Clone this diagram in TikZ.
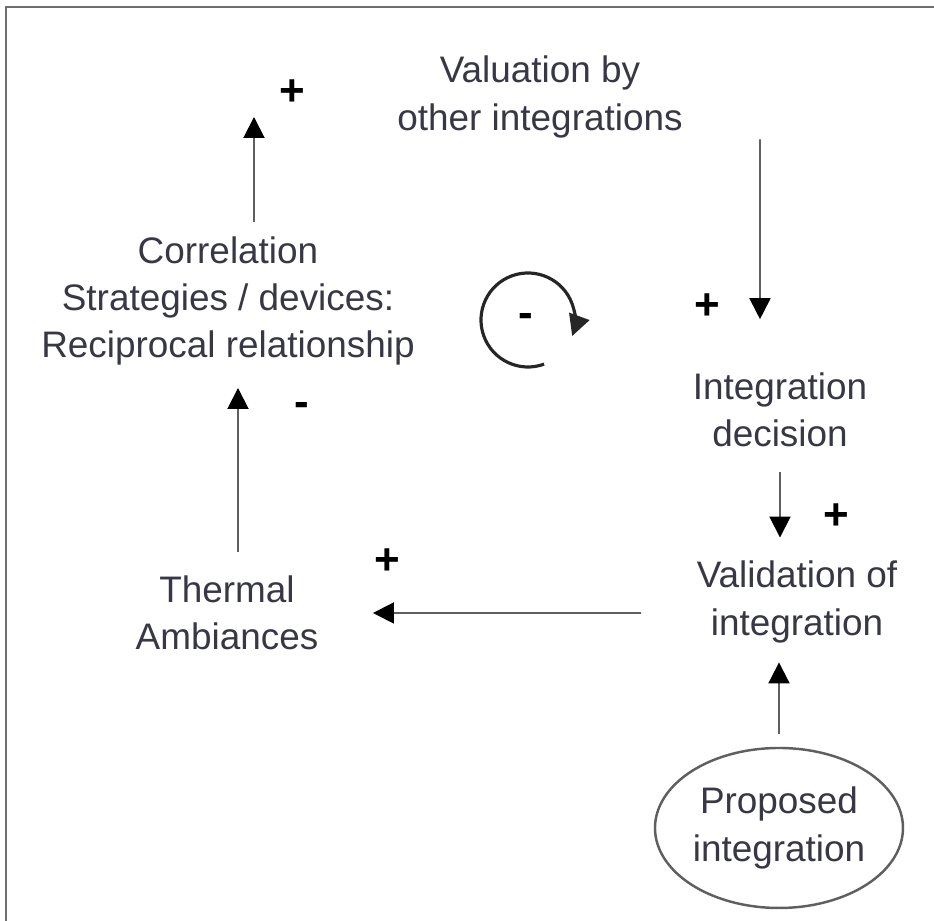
\documentclass[tikz,border=0pt]{standalone}
\usepackage{fontspec}
\setmainfont{Liberation Sans}
\usetikzlibrary{arrows.meta,shapes.geometric}
\definecolor{inkgray}{RGB}{55,55,70}
\definecolor{linegray}{RGB}{95,95,95}
\definecolor{framegray}{RGB}{110,110,110}
\begin{document}
\begin{tikzpicture}[
  txt/.style={align=center,inner sep=0pt,text=inkgray,font=\fontsize{10.5}{13.4}\selectfont},
  sign/.style={inner sep=0pt,font=\fontsize{12.5}{14}\selectfont\bfseries},
  link/.style={draw=linegray,line width=0.55pt,-{Triangle[length=0.21cm,width=0.21cm,color=black]}}]
\useasboundingbox (0,0) rectangle (9.34,9.21);
\draw[framegray,line width=0.6pt] (0.06,0)--(0.06,9.14)--(9.34,9.14);
\node (valuation) at (5.40,8.24) [txt] {Valuation by\\other integrations};
\node (corr) at (2.28,6.20) [txt] {Correlation\\Strategies / devices:\\Reciprocal relationship};
\node (thermal) at (2.27,3.08) [txt] {Thermal\\Ambiances};
\node (decision) at (7.80,5.11) [txt] {Integration\\decision};
\node (validation) at (7.97,3.19) [txt] {Validation of\\integration};
\node (proposed) at (7.79,0.93) [txt,ellipse,draw=linegray,line width=0.7pt,minimum width=2.48cm,minimum height=1.60cm] {Proposed\\integration};
\coordinate (corrtop) at (2.54,8.04);
\draw[link] ([xshift=0.26cm,yshift=0.14cm]corr.north)--(corrtop);
\draw[link] ([xshift=2.2cm,yshift=-0.01cm]valuation.south)--([xshift=-0.2cm,yshift=0.53cm]decision.north);
\draw[link] ([yshift=-0.24cm]decision.south)--([xshift=-0.17cm,yshift=0.23cm]validation.north);
\draw[link] ([yshift=0.13cm]proposed.north)--([xshift=-0.18cm,yshift=-0.19cm]validation.south);
\draw[link] ([xshift=-0.55cm,yshift=-0.11cm]validation.west)--([xshift=0.54cm]thermal.east);
\draw[link] ([xshift=0.11cm,yshift=0.23cm]thermal.north)--([xshift=0.10cm,yshift=-0.22cm]corr.south);
\draw[line width=0.9pt,color=black!85,-{Triangle[length=0.21cm,width=0.21cm]}] (5.28,6.01) ++(-70:0.47) arc[start angle=-70,end angle=-380,radius=0.47];
\node (plusA) at (2.92,8.28) [sign] {+};
\node (plusB) at (7.07,6.14) [sign] {+};
\node (plusC) at (8.36,4.04) [sign] {+};
\node (plusD) at (3.87,3.59) [sign] {+};
\node (minusA) at (3.02,5.11) [sign] {-};
\node (minusB) at (5.26,6.00) [sign] {-};
\end{tikzpicture}
\end{document}
